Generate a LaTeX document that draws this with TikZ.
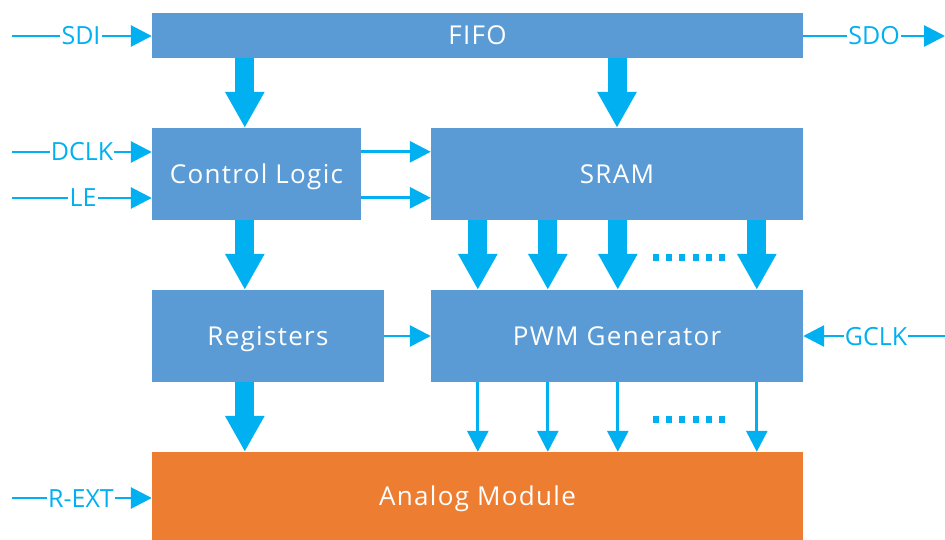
\documentclass[tikz,border=0pt]{standalone}
\usepackage{fontspec}
\setmainfont{Open Sans}
\usetikzlibrary{arrows.meta,calc}
\definecolor{boxblue}{HTML}{5B9BD5}
\definecolor{orng}{HTML}{ED7D31}
\definecolor{cyanc}{HTML}{00B0F0}
\begin{document}
\begin{tikzpicture}[x=1pt,y=-1pt,
 blk/.style={fill=boxblue, draw=none, text=white, font=\fontsize{26}{30}\selectfont\addfontfeature{LetterSpace=5}, inner sep=0pt, text height=18.5pt, text depth=0pt},
 lbl/.style={text=cyanc, font=\fontsize{25}{30}\selectfont, inner sep=1pt, text height=18pt, text depth=0pt},
 fat/.style={cyanc, line width=19pt, -{Triangle[width=37pt,length=36pt]}},
 thin/.style={cyanc, line width=2.8pt, -{Triangle[width=21pt,length=21pt]}},
 ln/.style={cyanc, line width=2.8pt},
]
\useasboundingbox (0,0) rectangle (945,540);
% blocks
\node[blk, minimum width=651pt, minimum height=45pt] (fifo) at (477.5,35.5) {FIFO};
\node[blk, minimum width=209pt, minimum height=92pt] (ctrl) at (256.5,174) {Control Logic};
\node[blk, minimum width=372pt, minimum height=92pt] (sram) at (617,174) {SRAM};
\node[blk, minimum width=232pt, minimum height=92pt] (regs) at (268,336) {Registers};
\node[blk, minimum width=372pt, minimum height=92pt] (pwm) at (617,336) {PWM Generator};
\node[blk, fill=orng, minimum width=651pt, minimum height=88pt] (ana) at (477.5,496) {Analog Module};
% labels
\node[lbl] (sdi) at (81,36) {SDI};
\node[lbl] (dclk) at (82,152) {DCLK};
\node[lbl] (le) at (83,198) {LE};
\node[lbl] (rext) at (81,498) {R-EXT};
\node[lbl] (sdo) at (874,36) {SDO};
\node[lbl] (gclk) at (876,336) {GCLK};
\coordinate (sdiS) at (12,36);
\coordinate (dclkS) at (12,152);
\coordinate (leS) at (12,198);
\coordinate (rextS) at (12,498);
\coordinate (sdoE) at (945,36);
\coordinate (gclkS) at (945,336);
% input lines
\draw[ln] (sdiS) -- (sdi.west);
\draw[thin] (sdi.east) -- (sdi.east -| fifo.west);
\draw[ln] (dclkS) -- (dclk.west);
\draw[thin] (dclk.east) -- (dclk.east -| ctrl.west);
\draw[ln] (leS) -- (le.west);
\draw[thin] (le.east) -- (le.east -| ctrl.west);
\draw[ln] (rextS) -- (rext.west);
\draw[thin] (rext.east) -- (rext.east -| ana.west);
\draw[ln] (sdo.west -| fifo.east) -- (sdo.west);
\draw[thin] (sdo.east) -- (sdoE);
\draw[ln] (gclkS) -- (gclk.east);
\draw[thin] (gclk.west) -- (gclk.west -| pwm.east);
% fat arrows
\draw[fat] ($(fifo.south west)+(93,0)$) -- ($(ctrl.north west)+(93,0)$);
\draw[fat] (fifo.south -| sram.north) -- (sram.north);
\draw[fat] ($(ctrl.south west)+(93,0)$) -- ($(regs.north west)+(93,0)$);
\draw[fat] ($(regs.south west)+(93,0)$) -- ($(ana.north west)+(93,0)$);
\foreach \dx in {47,117,187,326}{
  \coordinate (s) at ($(sram.south west)+(\dx,0)$);
  \coordinate (p) at ($(pwm.south west)+(\dx,0)$);
  \draw[fat] (s) -- (s |- pwm.north);
  \draw[thin] (p) -- (p |- ana.north);
}
% thin connectors
\draw[thin] ($(ctrl.north east)+(0,24)$) -- ($(sram.north west)+(0,24)$);
\draw[thin] ($(ctrl.north east)+(0,70)$) -- ($(sram.north west)+(0,70)$);
\draw[thin] (regs.east) -- (regs.east -| pwm.west);
% dots
\foreach \i in {0,...,5}{
  \fill[cyanc] (653+\i*13.2,254) rectangle ++(6,6.5);
  \fill[cyanc] (653+\i*13.2,416) rectangle ++(6,6.5);
}
\end{tikzpicture}
\end{document}
